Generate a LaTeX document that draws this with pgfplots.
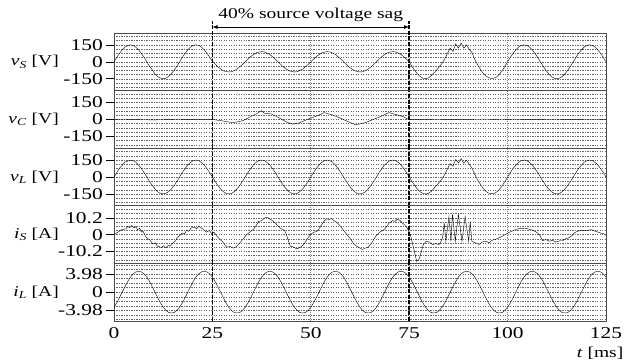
\documentclass[border=0pt]{standalone}
\usepackage{pgfplots}
\pgfplotsset{compat=1.18}
\usepackage{pgfplotstable}
\usepackage{fontspec}
\setmainfont{Liberation Serif}[FakeStretch=1.3]

\pgfplotstableread{
t vS vL iL
0.00 0 0 -3.3
0.69 39 37 -2.35
1.39 75 78 -1.2
2.08 106 103 0
2.78 130 132 1.2
3.47 143 141 2.35
4.17 150 148 3.3
4.86 146 146 4.0
5.56 128 131 4.45
6.25 108 104 4.55
6.94 73 76 4.45
7.64 41 38 4.0
8.33 0 2 3.3
9.03 -39 -41 2.35
9.72 -72 -74 1.2
10.42 -108 -105 0
11.11 -130 -132 -1.2
11.81 -144 -146 -2.35
12.50 -150 -149 -3.3
13.19 -146 -143 -4.0
13.89 -128 -130 -4.45
14.58 -107 -106 -4.55
15.28 -74 -76 -4.45
15.97 -40 -38 -4.0
16.67 0 0 -3.3
17.36 39 41 -2.35
18.06 76 74 -1.2
18.75 104 107 0
19.44 131 129 1.2
20.14 144 146 2.35
20.83 150 149 3.3
21.53 145 146 4.0
22.22 131 128 4.45
22.92 105 107 4.55
23.61 76 74 4.45
24.31 40 39 4.0
25.00 5 0 3.3
25.69 -20 -39 2.35
26.39 -45 -75 1.2
27.08 -62 -106 0
27.78 -79 -130 -1.2
28.47 -86 -145 -2.35
29.17 -90 -150 -3.3
29.86 -88 -145 -4.0
30.56 -77 -130 -4.45
31.25 -65 -106 -4.55
31.94 -44 -75 -4.45
32.64 -24 -39 -4.0
33.33 0 0 -3.3
34.03 23 39 -2.35
34.72 46 75 -1.2
35.42 63 106 0
36.11 79 130 1.2
36.81 86 145 2.35
37.50 90 150 3.3
38.19 88 146 4.0
38.89 77 129 4.45
39.58 65 107 4.55
40.28 44 74 4.45
40.97 24 40 4.0
41.67 0 0 3.3
42.36 -23 -39 2.35
43.06 -46 -76 1.2
43.75 -63 -105 0
44.44 -79 -131 -1.2
45.14 -86 -144 -2.35
45.83 -90 -150 -3.3
46.53 -88 -146 -4.0
47.22 -77 -129 -4.45
47.92 -65 -107 -4.55
48.61 -44 -74 -4.45
49.31 -24 -40 -4.0
50.00 0 0 -3.3
50.69 23 39 -2.35
51.39 46 76 -1.2
52.08 63 105 0
52.78 79 131 1.2
53.47 86 144 2.35
54.17 90 150 3.3
54.86 88 145 4.0
55.56 77 131 4.45
56.25 65 105 4.55
56.94 44 76 4.45
57.64 24 38 4.0
58.33 0 0 3.3
59.03 -23 -39 2.35
59.72 -46 -75 1.2
60.42 -63 -107 0
61.11 -79 -129 -1.2
61.81 -86 -146 -2.35
62.50 -90 -150 -3.3
63.19 -88 -144 -4.0
63.89 -77 -131 -4.45
64.58 -65 -105 -4.55
65.28 -44 -76 -4.45
65.97 -24 -38 -4.0
66.67 0 0 -3.3
67.36 23 40 -2.35
68.06 46 74 -1.2
68.75 63 107 0
69.44 79 129 1.2
70.14 86 146 2.35
70.83 90 150 3.3
71.53 88 144 4.0
72.22 77 131 4.45
72.92 65 105 4.55
73.61 44 76 4.45
74.31 24 39 4.0
75.00 0 0 3.3
75.69 -39 -39 2.35
76.39 -75 -75 1.2
77.08 -106 -106 0
77.78 -130 -130 -1.2
78.47 -145 -145 -2.35
79.17 -150 -150 -3.3
79.86 -143 -145 -4.0
80.56 -125 -128 -4.45
81.25 -100 -102 -4.55
81.94 -75 -76 -4.45
82.64 -45 -47 -4.0
83.33 -15 -18 -3.3
84.03 25 22 -2.35
84.72 75 72 -1.2
85.42 120 118 0
86.11 92 95 1.2
86.81 158 155 2.35
87.50 122 125 3.3
88.19 165 162 4.0
88.89 120 122 4.45
89.58 150 148 4.55
90.28 110 112 4.45
90.97 80 78 4.0
91.67 20 22 3.3
92.36 -25 -25 2.35
93.06 -65 -62 1.2
93.75 -100 -100 0
94.44 -125 -127 -1.2
95.14 -140 -142 -2.35
95.83 -148 -148 -3.3
96.53 -145 -146 -4.0
97.22 -135 -133 -4.45
97.92 -110 -110 -4.55
98.61 -80 -78 -4.45
99.31 -40 -40 -4.0
100.00 0 0 -3.3
100.69 39 38 -2.35
101.39 75 77 -1.2
102.08 106 104 0
102.78 130 131 1.2
103.47 145 144 2.35
104.17 150 150 3.3
104.86 145 146 4.0
105.56 130 129 4.45
106.25 106 107 4.55
106.94 75 74 4.45
107.64 39 40 4.0
108.33 0 0 3.3
109.03 -39 -38 2.35
109.72 -75 -77 1.2
110.42 -106 -104 0
111.11 -130 -131 -1.2
111.81 -145 -144 -2.35
112.50 -150 -150 -3.3
113.19 -145 -146 -4.0
113.89 -130 -129 -4.45
114.58 -106 -107 -4.55
115.28 -75 -74 -4.45
115.97 -39 -40 -4.0
116.67 0 0 -3.3
117.36 39 38 -2.35
118.06 75 77 -1.2
118.75 106 104 0
119.44 130 131 1.2
120.14 145 144 2.35
120.83 150 150 3.3
121.53 145 146 4.0
122.22 130 129 4.45
122.92 106 107 4.55
123.61 75 74 4.45
124.31 39 40 4.0
125.00 0 0 3.3
}\mainwave

\pgfplotstableread{
t v
0 0
5 -2
10 -4
14 -2
18 0
25 0
26.5 -8
27.9 -15
30 -28
31.5 -22
32.8 -10
35.1 31
36.5 55
37.4 77
38.2 55
38.9 51
40 48
42 13
43.7 -22
45.4 -42
47.1 -31
49.6 7
51.7 33
53.4 60
55.5 40
57.2 16
58.9 -11
61.4 -48
63.9 -28
65.6 -4
67.7 25
69.8 60
72 40
73.6 22
74.5 5
75 0
80 0
85 -2
95 -3
100 0
105 -2
112 -3
125 0
}\vCdata

\pgfplotstableread{
t i
0 0
1 1.5
2 3
3 3.5
3.5 5
4 4.2
4.5 5.5
5 4
5.5 4.8
6 3
6.5 3.8
7 1.5
7.4 2
8 -1
8.5 -2.5
9 -3
9.9 -5.8
10.5 -5
11 -7
12 -7.8
12.6 -6.8
13.2 -8
13.8 -6.5
14.3 -7
15 -5
15.6 -4
16 -2
16.7 -0.5
17.3 1
18 0.5
18.4 2.6
19 2
19.6 4
20.5 4.5
21 3.5
21.5 5
22.2 4
22.8 3
23.5 1.5
24.2 2.5
24.8 0.7
25.4 1.5
26 -0.5
26.9 -3
27.5 -4
28.6 -7.7
29.5 -7.2
30.3 -8.2
31 -7.5
31.6 -6
32.5 -3.5
33.7 0
34.5 1.5
35.4 3.2
36 5
36.7 8
37.5 8.5
38.2 10
38.8 10.5
39.6 9.5
40.5 8
41.2 6.5
42.2 4
43 3
43.5 2
44.2 -3
44.8 -7
45.5 -7.5
46.5 -8.7
47.3 -7.8
48.2 -6
49 -3
49.9 0
50.8 1.5
51.6 2
52.5 5
53.3 8
54 9.6
54.6 9.2
55.2 9.8
55.9 8.5
56.8 7
57.6 5
58.5 2
59.3 -0.4
60.2 -3
61 -6
62 -7.5
63.1 -9
63.8 -8.2
64.4 -8
65.5 -5
66.5 -1
67.5 1.5
68.6 3
69.3 5
69.9 7
70.8 8.5
71.4 8
72 9.4
72.7 8.5
73.3 7
74 5.5
74.5 4
75.4 -1
76.3 -10
76.9 -16.3
77.5 -15
78 -11
78.6 -6
79.3 -4
80.1 -4.5
80.9 -6
81.8 -5.5
82.6 -6
83.1 -4
83.5 -1.6
83.9 7
84.3 -4
85.1 11
85.6 -4
86 12.4
86.7 -4
87.5 12.4
88.4 -4
89.2 11
90.1 -4
90.5 8
90.9 -4
91.8 -5
92.8 -6
93.6 -4.5
94.5 -4
95.3 -5
96 -3.5
97 -2.8
98 -1.8
99.5 0.2
100.5 1.5
101.6 2.6
102.7 3.5
103.8 3.8
105 3.6
106.4 2.6
107.3 1.5
108.1 0
108.9 -3.7
109.7 -3
110.6 -4
111.4 -3.5
112.3 -4.5
113.2 -3.8
114 -3.7
114.8 -2.5
115.7 -1.8
116.4 -0.5
117 1.2
117.8 2
118.7 2.6
119.6 2.4
120.4 2.6
121.2 3
122.1 2.2
123 1.5
123.8 0.8
124.4 0.5
124.9 -0.4
}\iSdata

\tikzset{sagline/.style={black, line width=1.6pt, dash pattern=on 4pt off 1.6pt}}

\pgfplotsset{
  panel/.style={
    scale only axis, width=492bp, height=57.6bp,
    xmin=0, xmax=125,
    xtick={0,25,50,75,100,125}, xticklabels={},
    xtick style={draw=none},
    xmajorgrids,
    major x grid style={black!50, dash pattern=on 1pt off 1pt, line width=0.7pt},
    ytick pos=left, tick align=outside, major tick length=8bp, minor tick length=0pt,
    yminorgrids,
    minor y grid style={black!60, dash pattern=on 1.3pt off 1.2pt, line width=0.35pt},
    axis line style={black!70, line width=0.8pt},
    ytick style={black, line width=0.6pt},
    yticklabel style={inner sep=1bp, xshift=-2bp, font=\fontsize{16.5bp}{19bp}\selectfont},
    every axis y label/.style={at={(axis description cs:0,0.5)}, anchor=east, xshift=-50bp},
    clip mode=individual,
    cycle list={{black, line width=0.9pt, mark=none}},
  },
  vpanel/.style={panel, ymin=-255, ymax=255, ytick={-150,0,150}, yticklabels={-150,0,150},
    minor ytick={-225,-187.5,...,225}},
}

\begin{document}
\fontsize{15bp}{18bp}\selectfont
\begin{tikzpicture}
\path[use as bounding box] (0,0) rectangle (627bp,-361bp);

\begin{axis}[vpanel, at={(114bp,-33bp)}, anchor=north west,
  ylabel={\textit{v}\textsubscript{\textit{S}} [V]}]
\addplot table[x=t,y=vS]{\mainwave};
\draw[sagline] (rel axis cs:0.2,0) -- (rel axis cs:0.2,1.2);
\draw[sagline] (rel axis cs:0.6,0) -- (rel axis cs:0.6,1.2);
\draw[<->, >=latex, line width=0.8pt] (rel axis cs:0.2,1.104) -- (rel axis cs:0.6,1.104);
\node at (rel axis cs:0.4,1.31) {40\% source voltage sag};
\end{axis}

\begin{axis}[vpanel, at={(114bp,-90.6bp)}, anchor=north west,
  ylabel={\textit{v}\textsubscript{\textit{C}} [V]}]
\addplot table[x=t,y=v]{\vCdata};
\draw[sagline] (rel axis cs:0.2,0) -- (rel axis cs:0.2,1);
\draw[sagline] (rel axis cs:0.6,0) -- (rel axis cs:0.6,1);
\end{axis}

\begin{axis}[vpanel, at={(114bp,-148.2bp)}, anchor=north west,
  ylabel={\textit{v}\textsubscript{\textit{L}} [V]}]
\addplot table[x=t,y=vL]{\mainwave};
\draw[sagline] (rel axis cs:0.2,0) -- (rel axis cs:0.2,1);
\draw[sagline] (rel axis cs:0.6,0) -- (rel axis cs:0.6,1);
\end{axis}

\begin{axis}[panel, at={(114bp,-205.8bp)}, anchor=north west,
  ymin=-17.5, ymax=17.5, ytick={-10.2,0,10.2}, yticklabels={-10.2,0,10.2},
  minor ytick={-15.3,-12.75,...,15.4},
  ylabel={\textit{i}\textsubscript{\textit{S}} [A]}]
\addplot table[x=t,y=i]{\iSdata};
\draw[sagline] (rel axis cs:0.2,0) -- (rel axis cs:0.2,1);
\draw[sagline] (rel axis cs:0.6,0) -- (rel axis cs:0.6,1);
\end{axis}

\begin{axis}[panel, at={(114bp,-263.4bp)}, anchor=north west,
  ymin=-6.3, ymax=6.3, ytick={-3.98,0,3.98}, yticklabels={-3.98,0,3.98},
  minor ytick={-5.97,-4.975,...,6},
  xticklabels={0,25,50,75,100,125},
  xticklabel style={yshift=7bp, font=\fontsize{16.5bp}{19bp}\selectfont},
  xlabel={\textit{t} [ms]},
  every axis x label/.style={at={(axis description cs:0.988,0)}, anchor=north, yshift=-21bp},
  ylabel={\textit{i}\textsubscript{\textit{L}} [A]}]
\addplot table[x=t,y=iL]{\mainwave};
\draw[sagline] (rel axis cs:0.2,0) -- (rel axis cs:0.2,1);
\draw[sagline] (rel axis cs:0.6,0) -- (rel axis cs:0.6,1);
\end{axis}
\end{tikzpicture}
\end{document}
